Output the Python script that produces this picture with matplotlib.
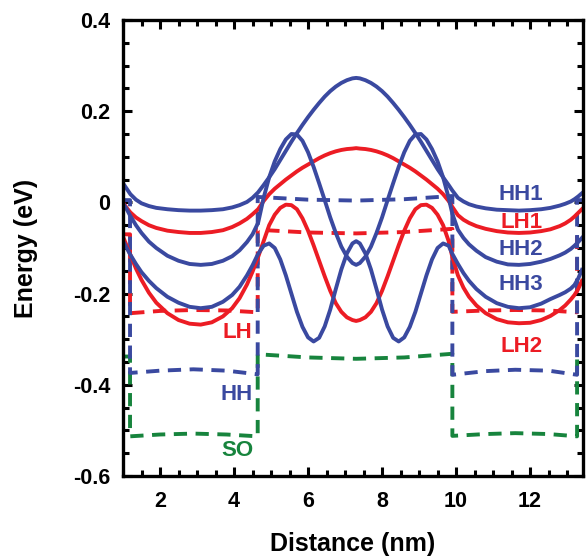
import matplotlib
matplotlib.use('Agg')
import matplotlib.pyplot as plt
from matplotlib.ticker import MultipleLocator

plt.rcParams['font.family'] = ['Liberation Sans', 'DejaVu Sans']
plt.rcParams['font.weight'] = 'bold'
plt.rcParams['axes.unicode_minus'] = False

# Data #######################################################################

# distance grid for the subband curves (nm)
dist = [1.0, 1.1, 1.2, 1.35, 1.5, 1.7, 1.9, 2.2, 2.5, 2.8, 3.1, 3.4, 3.7, 3.95, 4.15, 4.35, 4.5, 4.65,
        4.8, 4.95, 5.1, 5.25, 5.4, 5.55, 5.7, 5.85, 6.0, 6.15, 6.3, 6.45, 6.6, 6.75, 6.9, 7.05, 7.2, 7.3,
        7.4, 7.55, 7.7, 7.85, 8.0, 8.15, 8.3, 8.45, 8.6, 8.75, 8.9, 9.05, 9.2, 9.35, 9.5, 9.65, 9.8, 9.9,
        10.05, 10.2, 10.35, 10.55, 10.8, 11.1, 11.4, 11.7, 12.0, 12.3, 12.55, 12.8, 12.95, 13.1, 13.2, 13.3, 13.4]

hh1 = [0.042, 0.03, 0.018, 0.006, -0.002, -0.008, -0.012, -0.015, -0.017, -0.018, -0.018, -0.017, -0.015, -0.011, -0.006, 0.001, 0.01, 0.022,
       0.038, 0.055, 0.073, 0.093, 0.113, 0.133, 0.152, 0.17, 0.187, 0.203, 0.218, 0.232, 0.244, 0.254, 0.262, 0.268, 0.272, 0.273,
       0.272, 0.268, 0.262, 0.254, 0.244, 0.232, 0.218, 0.203, 0.187, 0.17, 0.152, 0.133, 0.113, 0.093, 0.073, 0.055, 0.038, 0.026,
       0.01, 0.002, -0.004, -0.009, -0.013, -0.016, -0.017, -0.018, -0.017, -0.015, -0.012, -0.007, -0.003, 0.002, 0.007, 0.013, 0.02]

lh1 = [0.0, -0.012, -0.022, -0.033, -0.041, -0.05, -0.056, -0.062, -0.065, -0.067, -0.067, -0.065, -0.061, -0.054, -0.046, -0.036, -0.026, -0.015,
       0.003, 0.018, 0.03, 0.04, 0.05, 0.059, 0.068, 0.076, 0.083, 0.09, 0.097, 0.103, 0.108, 0.112, 0.115, 0.117, 0.118, 0.119,
       0.118, 0.117, 0.115, 0.112, 0.108, 0.103, 0.097, 0.09, 0.083, 0.076, 0.068, 0.059, 0.05, 0.04, 0.03, 0.018, 0.003, -0.01,
       -0.028, -0.038, -0.045, -0.052, -0.058, -0.063, -0.066, -0.067, -0.066, -0.063, -0.059, -0.052, -0.046, -0.038, -0.031, -0.023, -0.015]

hh2 = [-0.002, -0.015, -0.03, -0.05, -0.067, -0.086, -0.1, -0.117, -0.128, -0.135, -0.137, -0.135, -0.128, -0.118, -0.105, -0.087, -0.07, -0.045,
       0.01, 0.055, 0.09, 0.117, 0.138, 0.15, 0.149, 0.135, 0.11, 0.078, 0.042, 0.005, -0.033, -0.067, -0.097, -0.119, -0.133, -0.137,
       -0.133, -0.119, -0.097, -0.067, -0.033, 0.005, 0.042, 0.078, 0.11, 0.135, 0.149, 0.15, 0.138, 0.117, 0.09, 0.055, 0.01, -0.025,
       -0.06, -0.078, -0.092, -0.106, -0.12, -0.13, -0.136, -0.137, -0.135, -0.13, -0.124, -0.116, -0.11, -0.102, -0.095, -0.087, -0.078]

hh3 = [-0.085, -0.1, -0.115, -0.135, -0.153, -0.172, -0.188, -0.207, -0.22, -0.229, -0.232, -0.229, -0.218, -0.203, -0.185, -0.16, -0.138, -0.113,
       -0.095, -0.09, -0.1, -0.125, -0.16, -0.2, -0.24, -0.273, -0.296, -0.305, -0.297, -0.272, -0.235, -0.19, -0.147, -0.112, -0.09, -0.085,
       -0.09, -0.112, -0.147, -0.19, -0.235, -0.272, -0.297, -0.305, -0.296, -0.273, -0.24, -0.2, -0.16, -0.125, -0.1, -0.09, -0.095, -0.113,
       -0.135, -0.155, -0.172, -0.19, -0.207, -0.221, -0.229, -0.232, -0.23, -0.222, -0.212, -0.203, -0.197, -0.189, -0.181, -0.167, -0.148]

lh2 = [-0.075, -0.095, -0.115, -0.145, -0.17, -0.198, -0.22, -0.243, -0.258, -0.266, -0.268, -0.263, -0.25, -0.232, -0.21, -0.18, -0.152, -0.12,
       -0.085, -0.05, -0.027, -0.012, -0.005, -0.006, -0.015, -0.035, -0.062, -0.094, -0.128, -0.162, -0.194, -0.221, -0.24, -0.252, -0.258, -0.26,
       -0.258, -0.252, -0.24, -0.221, -0.194, -0.162, -0.128, -0.094, -0.062, -0.035, -0.015, -0.006, -0.005, -0.012, -0.027, -0.05, -0.085, -0.12,
       -0.16, -0.187, -0.207, -0.226, -0.243, -0.256, -0.263, -0.265, -0.264, -0.258, -0.249, -0.236, -0.226, -0.213, -0.203, -0.19, -0.172]

# band edges (dashed)
edge_x = [1.0, 1.19, 1.19, 2.0, 2.9, 3.8, 4.64, 4.64, 6.0, 7.3, 8.6, 9.9, 9.9, 10.8, 11.6, 12.5, 13.27, 13.27, 13.43]
hh_edge = [0.005, 0.005, -0.374, -0.369, -0.366, -0.369, -0.377, 0.012, 0.006, 0.004, 0.007, 0.014,
           -0.378, -0.37, -0.367, -0.369, -0.378, 0.005, 0.005]
lh_edge = [-0.07, -0.07, -0.243, -0.238, -0.236, -0.237, -0.241, -0.06, -0.066, -0.068, -0.065, -0.058,
           -0.24, -0.237, -0.236, -0.237, -0.241, -0.07, -0.07]
so_edge = [-0.338, -0.338, -0.513, -0.509, -0.507, -0.509, -0.513, -0.333, -0.34, -0.343, -0.34, -0.332,
           -0.512, -0.508, -0.506, -0.508, -0.513, -0.338, -0.338]

# Style ######################################################################

blue = '#3a49a0'
red = '#ec1c24'
green = '#17843d'
lw = 2.8
dash = (3.4, 2.2)

fig = plt.figure(figsize=(5.86, 5.59), dpi=100)
ax = fig.add_axes([123/586, 1-476/559, 460/586, 456/559])

ax.plot(edge_x, so_edge, color=green, lw=lw, dashes=dash)
ax.plot(edge_x, lh_edge, color=red, lw=lw, dashes=dash)
ax.plot(edge_x, hh_edge, color=blue, lw=lw, dashes=dash)

ax.plot(dist, lh2, color=red, lw=lw)
ax.plot(dist, lh1, color=red, lw=lw)
ax.plot(dist, hh3, color=blue, lw=lw)
ax.plot(dist, hh2, color=blue, lw=lw)
ax.plot(dist, hh1, color=blue, lw=lw)

fs = 16
ax.text(11.76, 0.018, 'HH1', color=blue, fontsize=fs, fontweight='bold', ha='center', va='center')
ax.text(11.76, -0.045, 'LH1', color=red, fontsize=fs, fontweight='bold', ha='center', va='center')
ax.text(11.76, -0.104, 'HH2', color=blue, fontsize=fs, fontweight='bold', ha='center', va='center')
ax.text(11.76, -0.181, 'HH3', color=blue, fontsize=fs, fontweight='bold', ha='center', va='center')
ax.text(11.76, -0.315, 'LH2', color=red, fontsize=fs, fontweight='bold', ha='center', va='center')
ax.text(4.1, -0.286, 'LH', color=red, fontsize=fs, fontweight='bold', ha='center', va='center')
ax.text(4.08, -0.422, 'HH', color=blue, fontsize=fs, fontweight='bold', ha='center', va='center')
ax.text(4.08, -0.545, 'SO', color=green, fontsize=fs, fontweight='bold', ha='center', va='center')

ax.set_xlim(1.0, 13.43)
ax.set_ylim(-0.6, 0.4)
ax.xaxis.set_major_locator(MultipleLocator(2))
ax.xaxis.set_minor_locator(MultipleLocator(0.5))
ax.yaxis.set_major_locator(MultipleLocator(0.2))
ax.yaxis.set_minor_locator(MultipleLocator(0.05))
ax.set_yticks([-0.6, -0.4, -0.2, 0, 0.2, 0.4])
ax.set_yticklabels(['-0.6', '-0.4', '-0.2', '0', '0.2', '0.4'])
ax.tick_params(which='both', direction='in', top=True, right=True, width=2.2,
               labelsize=15.5, pad=9)
ax.tick_params(axis='x', which='both', pad=11)
ax.tick_params(which='major', length=6.5)
ax.tick_params(which='minor', length=4)
for s in ax.spines.values():
    s.set_linewidth(2.4)

ax.set_xlabel('Distance (nm)', fontsize=18, fontweight='bold')
ax.set_ylabel('Energy (eV)', fontsize=18, fontweight='bold')
ax.xaxis.set_label_coords(0.5, -0.123)
ax.yaxis.set_label_coords(-0.185, 0.5)

plt.savefig('out.png', dpi=100)
